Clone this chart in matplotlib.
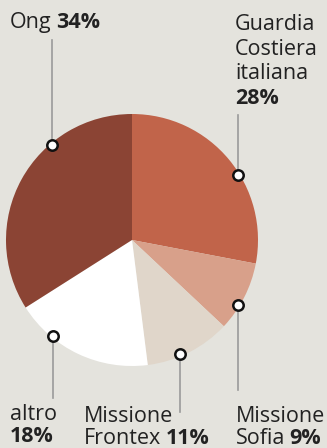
import numpy as np
import matplotlib.pyplot as plt

# shares of rescues by who carried them out (clockwise from the top)
labels = ["Guardia Costiera italiana", "Missione Sofia", "Missione Frontex", "altro", "Ong"]
shares = [28, 9, 11, 18, 34]
colors = ["#c1644a", "#d8a08a", "#e0d6ca", "#ffffff", "#8b4434"]

# how each label is broken into lines; the percentage follows the last line
# ("" means the percentage sits on its own line)
label_lines = {
    "Guardia Costiera italiana": ["Guardia", "Costiera", "italiana", ""],
    "Missione Sofia": ["Missione", "Sofia"],
    "Missione Frontex": ["Missione", "Frontex"],
    "altro": ["altro", ""],
    "Ong": ["Ong"],
}

W, H = 327, 448
bg = "#e4e3dd"
txt = "#222222"
grey = "#9a9a9a"

fig = plt.figure(figsize=(W / 100, H / 100), dpi=100, facecolor=bg)
ax = fig.add_axes([0, 0, 1, 1])
ax.set_facecolor(bg)


def Y(y):
    # pixel row (from the top) -> data y
    return H - y


cx, cy, R = 132, Y(240), 126
ax.pie(shares, colors=colors, startangle=90, counterclock=False,
       center=(cx, cy), radius=R, wedgeprops=dict(linewidth=0), frame=True)

# label placement: text x, first baseline row, line step, leader x, leader end row, side
layout = {
    "Guardia Costiera italiana": (235, 30, 24.5, 238, 115, "up"),
    "Missione Sofia": (236, 422, 21.5, 238, 390, "down"),
    "Missione Frontex": (84, 422, 21.5, 180, 412, "down"),
    "altro": (10, 420, 21.5, 53, 398, "down"),
    "Ong": (10, 28, 21.5, 52, 40, "up"),
}

fs = 15.5
fam = ["Open Sans", "DejaVu Sans"]
rm = R * 0.985

for lab, pct in zip(labels, shares):
    tx, ty, step, lx, lend, side = layout[lab]
    dy = np.sqrt(rm ** 2 - (lx - cx) ** 2)
    my = cy + dy if side == "up" else cy - dy
    ax.plot([lx, lx], [my, Y(lend)], color=grey, lw=1.2, zorder=3)
    ax.plot(lx, my, "o", ms=7.5, mfc="white", mec="#111111", mew=1.8, zorder=4)

    lines = label_lines[lab]
    for i, line in enumerate(lines):
        y = Y(ty + i * step)
        last = i == len(lines) - 1
        if last and line == "":
            ax.text(tx, y, f"{pct}%", fontsize=fs, fontweight="bold",
                    family=fam, color=txt, va="baseline", ha="left")
            continue
        t = ax.text(tx, y, line, fontsize=fs, family=fam, color=txt,
                    va="baseline", ha="left")
        if last:
            ax.annotate(f"{pct}%", xy=(1, 0), xycoords=t, xytext=(3, 0),
                        textcoords="offset points", fontsize=fs,
                        fontweight="bold", family=fam, color=txt,
                        va="bottom", ha="left")

ax.set_xlim(0, W)
ax.set_ylim(0, H)
ax.set_aspect("equal")
ax.axis("off")

fig.savefig("out.png", dpi=100, facecolor=bg)
